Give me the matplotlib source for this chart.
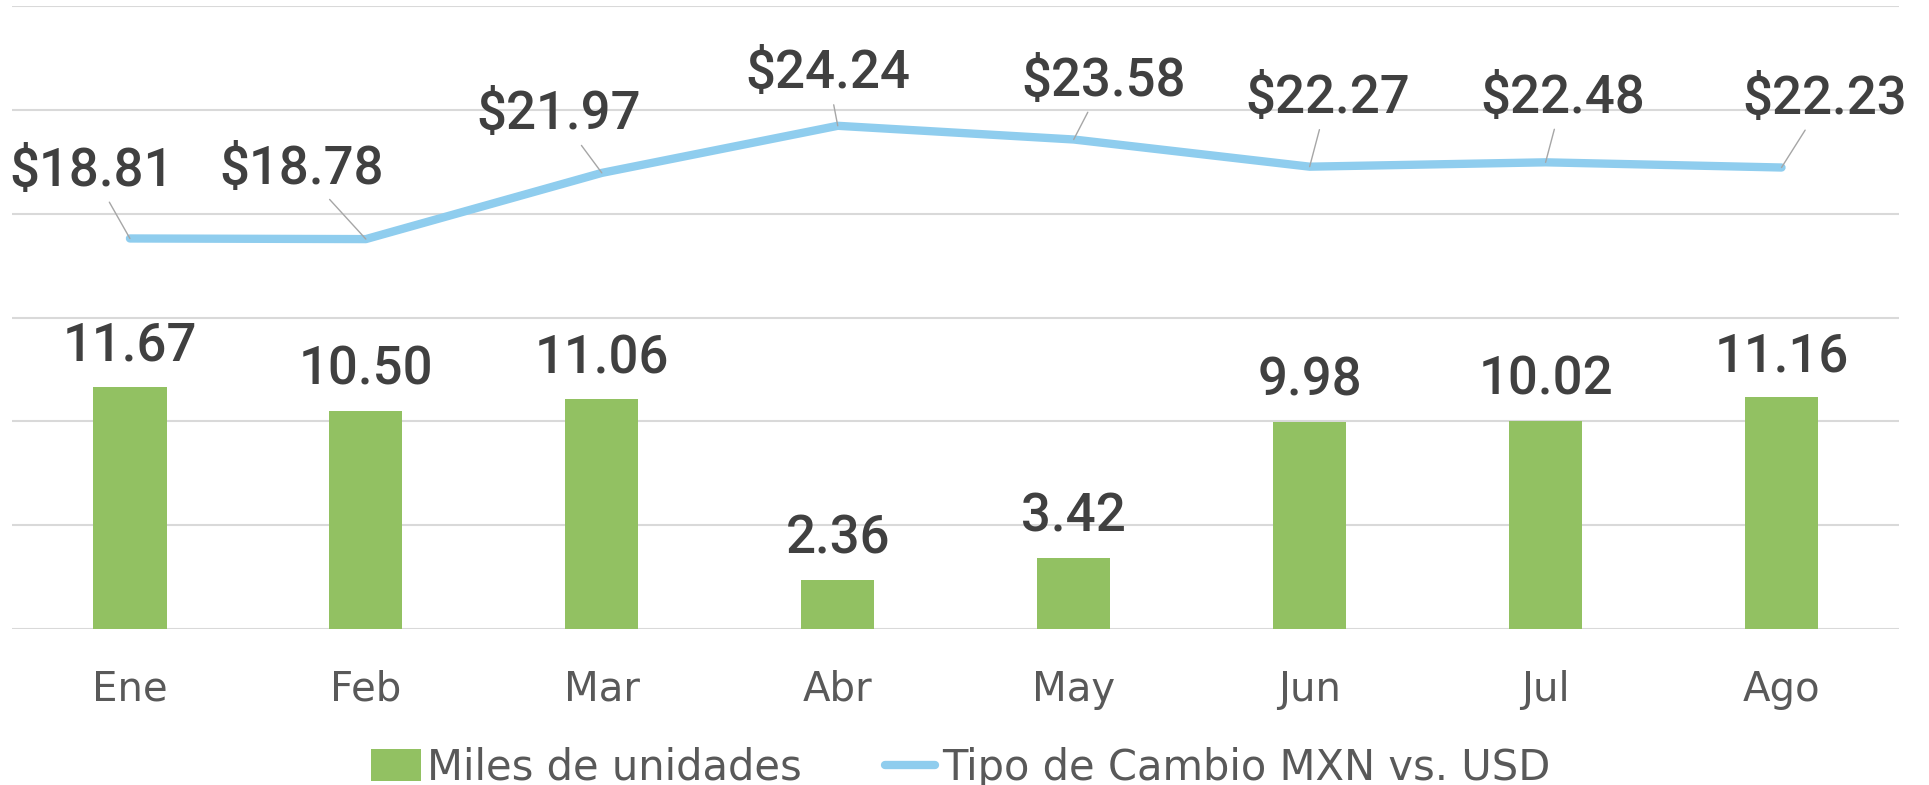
import matplotlib.pyplot as plt
from matplotlib.patches import Patch
from matplotlib.lines import Line2D

meses = ["Ene", "Feb", "Mar", "Abr", "May", "Jun", "Jul", "Ago"]
miles_unidades = [11.67, 10.50, 11.06, 2.36, 3.42, 9.98, 10.02, 11.16]
tipo_cambio = [18.81, 18.78, 21.97, 24.24, 23.58, 22.27, 22.48, 22.23]

verde = "#92C162"
azul = "#8FCDEE"
gris_texto = "#404040"
gris_ejes = "#595959"

fig = plt.figure(figsize=(19.29, 7.85), dpi=100)
ax = fig.add_axes([0.0062, 0.199, 0.9785, 0.793])

x = range(len(meses))
ax.bar(x, miles_unidades, width=0.31, color=verde, zorder=2)
ax.plot(x, tipo_cambio, color=azul, lw=6, solid_capstyle="round", zorder=3)

ax.set_xlim(-0.5, len(meses) - 0.5)
ax.set_ylim(0, 30)
ax.set_yticks(range(0, 31, 5))
ax.yaxis.grid(True, color="#D9D9D9", lw=1.5, zorder=0)
ax.set_axisbelow(True)
for s in ax.spines.values():
    s.set_visible(False)
ax.tick_params(axis="y", left=False, labelleft=False)
ax.tick_params(axis="x", bottom=False, pad=26, labelsize=29, labelcolor=gris_ejes)
ax.set_xticks(list(x))
ax.set_xticklabels(meses, family="DejaVu Sans")

etiqueta = "Roboto"

# etiquetas de las barras
for i, v in enumerate(miles_unidades):
    ax.annotate(f"{v:.2f}", (i, v), xytext=(0, 26), textcoords="offset pixels",
                ha="center", va="baseline", fontsize=38, color=gris_texto,
                family=etiqueta, fontweight="medium")

# etiquetas de la linea con lineas guia
desplaz = [(-38, 67), (-64, 70), (-43, 58), (-10, 52), (30, 58), (18, 68), (17, 64), (43, 68)]
for i, v in enumerate(tipo_cambio):
    ax.annotate(f"${v:.2f}", (i, v), xytext=desplaz[i], textcoords="offset pixels",
                ha="center", va="center", fontsize=38, color=gris_texto,
                family=etiqueta, fontweight="medium",
                arrowprops=dict(arrowstyle="-", color="#A6A6A6", lw=1.0,
                                shrinkA=2, shrinkB=0))

handles = [Patch(facecolor=verde, edgecolor="none"),
           Line2D([], [], color=azul, lw=6, solid_capstyle="round")]
fig.legend(handles, ["Miles de unidades", "Tipo de Cambio MXN vs. USD"],
           loc="center", bbox_to_anchor=(0.498, 0.022), ncol=2, frameon=False,
           prop={"family": "DejaVu Sans", "size": 30}, labelcolor=gris_ejes,
           handlelength=1.2, handleheight=0.8, handletextpad=0.15, columnspacing=2.0)

fig.savefig("out.png", dpi=100)
